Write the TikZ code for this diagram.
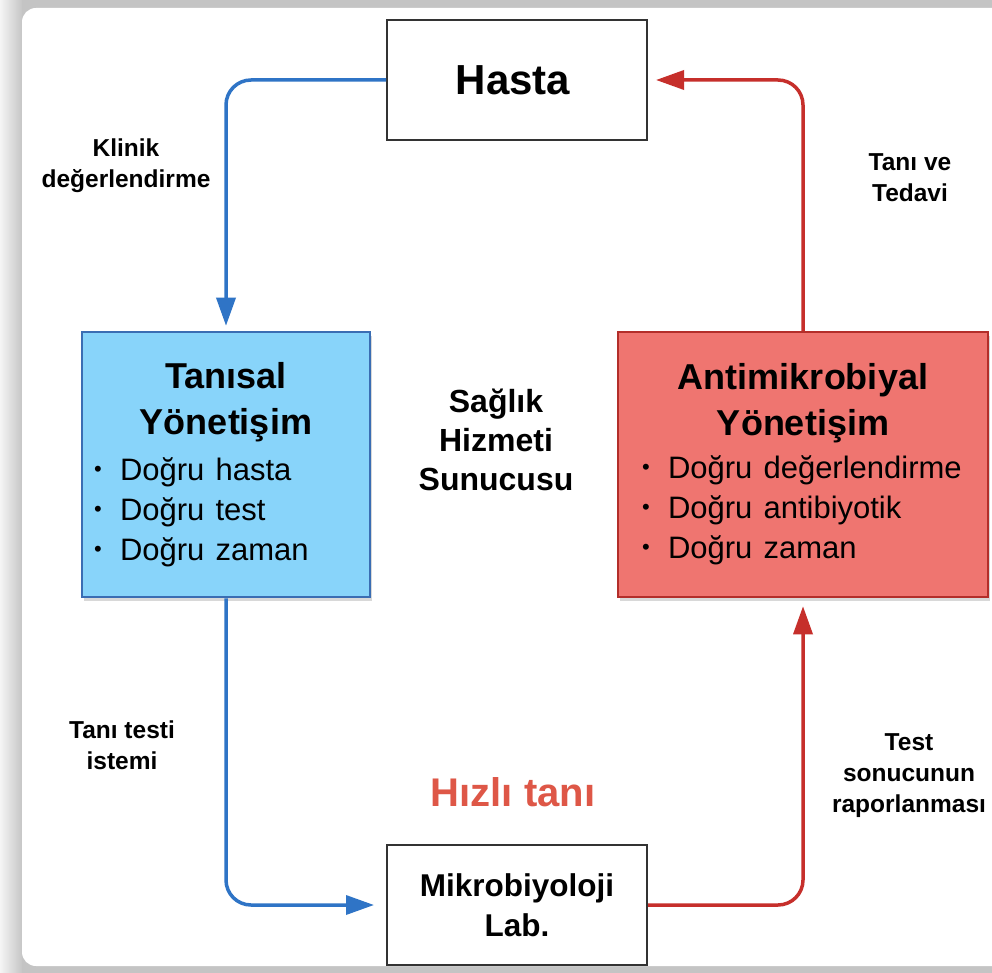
\documentclass[tikz,border=0pt]{standalone}
\usepackage{fontspec}
\setmainfont{Liberation Sans}
\usetikzlibrary{arrows.meta,shadows}

\definecolor{linkblue}{HTML}{2F74C6}
\definecolor{tanfill}{HTML}{88D4FA}
\definecolor{tanline}{HTML}{3A6DB3}
\definecolor{linkred}{HTML}{C62F2B}
\definecolor{antifill}{HTML}{EF7570}
\definecolor{antiline}{HTML}{B32E2A}
\definecolor{hizlired}{HTML}{DE5747}
\definecolor{framegray}{HTML}{C4C4C4}

% small bullet for the lists
\newcommand{\bitem}{\makebox[26pt][l]{\raisebox{4pt}{\fontsize{22}{22}\selectfont\textbullet}}}
\newcommand{\govtitle}{\bfseries\fontsize{36}{46}\selectfont}
\newcommand{\govitem}{\mdseries\fontsize{31}{40}\selectfont\spaceskip=0.36em\relax}

\begin{document}
\begin{tikzpicture}[x=1pt, y=-1pt,
  plainbox/.style={draw=black!80, line width=2pt, fill=white, minimum width=260pt, minimum height=120pt, align=center, inner sep=0pt},
  govbox/.style={line width=2.5pt, minimum height=265pt, inner ysep=0pt, drop shadow={opacity=0.3, shadow xshift=2pt, shadow yshift=-4pt}},
  lbl/.style={font=\bfseries\fontsize{24.5}{31}\selectfont, align=center},
  flow/.style={line width=3.5pt, rounded corners=25pt, -{Triangle[length=28pt, width=19pt]}},
]
\useasboundingbox (0,0) rectangle (992,973);

% Frame
\fill[framegray] (0,0) rectangle (992,973);
\shade[left color=gray!8, right color=gray!45] (0,0) rectangle (22,973);
\fill[white, rounded corners=14pt] (22,8) rectangle (1010,966);

% Boxes
\node[plainbox, font=\bfseries\fontsize{42}{50}\selectfont] (hasta) at (517,80) {\hspace*{-8pt}Hasta};
\node[plainbox, font=\bfseries\fontsize{31.5}{40}\selectfont] (mikro) at (517,905) {Mikrobiyoloji\\Lab.};

\node[govbox, draw=tanline, fill=tanfill, inner xsep=12pt, text width=264pt] (tanisal) at (226,464.5) {%
  {\govtitle\centering Tanısal\\Yönetişim\par}\vspace{6pt}
  {\govitem\raggedright \bitem Doğru hasta\\ \bitem Doğru test\\ \bitem Doğru zaman\par}};
\node[govbox, draw=antiline, fill=antifill, inner xsep=24pt, text width=322pt] (anti) at (803,464.5) {%
  {\govtitle\centering Antimikrobiyal\\Yönetişim\par}\vspace{3pt}
  {\govitem\raggedright \bitem Doğru değerlendirme\\ \bitem Doğru antibiyotik\\ \bitem Doğru zaman\par}};

% Labels
\node[lbl] (klinik) at (126,166) {Klinik\\değerlendirme};
\node[lbl] (tedavi) at (910,178) {Tanı ve\\Tedavi};
\node[lbl, font=\bfseries\fontsize{32}{39}\selectfont] (saglik) at (496,440) {Sağlık\\Hizmeti\\Sunucusu};
\node[lbl] (istem) at (122,745) {Tanı testi\\istemi};
\node[lbl, font=\bfseries\fontsize{40}{48}\selectfont, text=hizlired] (hizli) at (513,792) {Hızlı tanı};
\node[lbl] (rapor) at (909,776) {Test\\sonucunun\\raporlanması};

% Connectors
\draw[flow, linkblue, shorten >=5pt] (hasta.west) -| (tanisal.north);
\draw[flow, linkblue, shorten >=12pt] (tanisal.south) |- (mikro.west);
\draw[flow, linkred, shorten >=8pt] (mikro.east) -| (anti.south);
\draw[flow, linkred, shorten >=8pt] (anti.north) |- (hasta.east);
\end{tikzpicture}
\end{document}
